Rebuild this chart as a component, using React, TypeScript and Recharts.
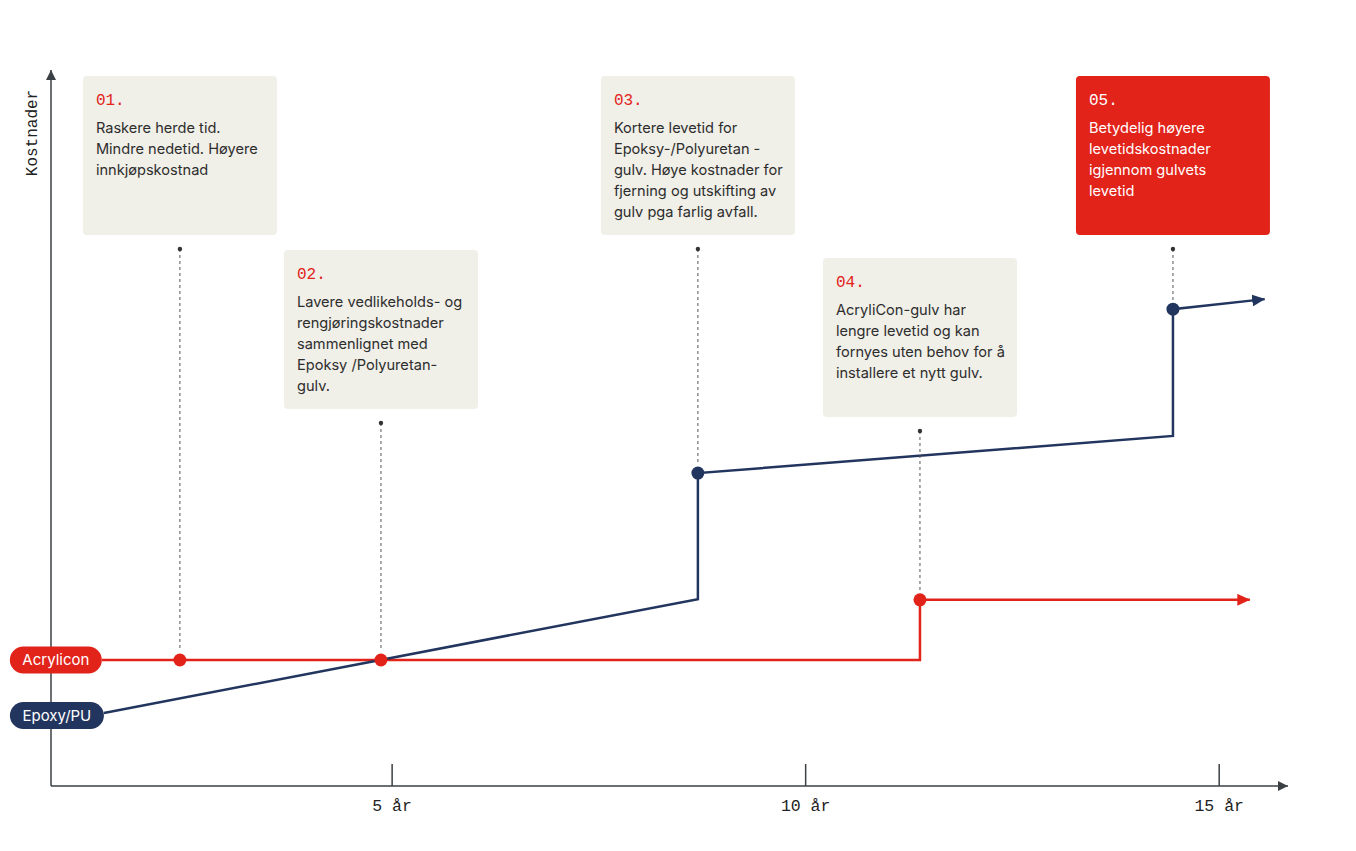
import React from 'react';
import { ComposedChart, Line, XAxis, YAxis, ReferenceDot } from 'recharts';

// ---------- data ----------
const seriesNames = ['Acrylicon', 'Epoxy/PU'];
const acryliconYears = [1.49, 2.434, 4.865, 11.382, 11.382, 15.37];
const acryliconCost = [17.6, 17.6, 17.6, 17.6, 26.0, 26.0];
const epoxyYears = [1.515, 8.697, 8.697, 14.441, 14.441, 15.55];
const epoxyCost = [10.2, 26.1, 43.7, 48.9, 66.6, 68.0];
const xTicks = [5, 10, 15];
const xTickLabels = ['5 år', '10 år', '15 år'];
const yAxisTitle = 'Kostnader';

const eventSeries = ['acrylicon', 'acrylicon', 'epoxy', 'acrylicon', 'epoxy'];
const eventPointIndex = [1, 2, 2, 4, 4];
const eventNumbers = ['01.', '02.', '03.', '04.', '05.'];
const eventTexts = [
  ['Raskere herde tid.', 'Mindre nedetid. Høyere', 'innkjøpskostnad'],
  ['Lavere vedlikeholds- og', 'rengjøringskostnader', 'sammenlignet med', 'Epoksy /Polyuretan-', 'gulv.'],
  ['Kortere levetid for', 'Epoksy-/Polyuretan -', 'gulv. Høye kostnader for', 'fjerning og utskifting av', 'gulv pga farlig avfall.'],
  ['AcryliCon-gulv har', 'lengre levetid og kan', 'fornyes uten behov for å', 'installere et nytt gulv.'],
  ['Betydelig høyere', 'levetidskostnader', 'igjennom gulvets', 'levetid'],
];
const eventHighlight = [false, false, false, false, true];

// ---------- style / layout ----------
const RED = '#E2231A';
const NAVY = '#22355E';
const BOX = '#F0EFE8';
const AXIS = '#3B4045';
const TEXT = '#2D2D2D';
const MONO = '"Liberation Mono", "DejaVu Sans Mono", monospace';
const SANS = 'Inter, "Noto Sans", sans-serif';
const X_MIN = 0.8754;
const X_MAX = 15.832;
const BOX_TOPS = [76, 250, 76, 258, 76];
const BOX_W = 194;
const BOX_H = 159;
const PILL_W = [92, 94];
const PILL_DY = [0, 2.5];

const acryliconData = acryliconYears.map((year, i) => ({ year, cost: acryliconCost[i] }));
const epoxyData = epoxyYears.map((year, i) => ({ year, cost: epoxyCost[i] }));
const seriesData: Record<string, { year: number; cost: number }[]> = {
  acrylicon: acryliconData,
  epoxy: epoxyData,
};

const dotIndices = (key: string) =>
  eventSeries.map((s, i) => (s === key ? eventPointIndex[i] : -1)).filter((v) => v >= 0);

const makeDot = (color: string, key: string) => {
  const idxs = dotIndices(key);
  return (props: any) => {
    const { cx, cy, index } = props;
    if (!idxs.includes(index)) return <g key={`d-${key}-${index}`} />;
    return <circle key={`d-${key}-${index}`} cx={cx} cy={cy} r={6.5} fill={color} />;
  };
};

const Annotation = ({ cx, cy, i }: { cx: number; cy: number; i: number }) => {
  const top = BOX_TOPS[i];
  const left = cx - BOX_W / 2;
  const hl = eventHighlight[i];
  const leaderTop = top + BOX_H + 14;
  return (
    <g>
      <line x1={cx} x2={cx} y1={leaderTop} y2={cy - 9} stroke="#555" strokeWidth={1} strokeDasharray="3 3" />
      <circle cx={cx} cy={leaderTop} r={2.2} fill="#333" />
      <rect x={left} y={top} width={BOX_W} height={BOX_H} rx={4} fill={hl ? RED : BOX} />
      <text x={left + 13} y={top + 29} fontFamily={MONO} fontSize={16} fill={hl ? '#fff' : RED}>
        {eventNumbers[i]}
      </text>
      <text fontFamily={SANS} fontSize={14.6} fill={hl ? '#fff' : TEXT}>
        {eventTexts[i].map((t, k) => (
          <tspan key={k} x={left + 13} y={top + 57 + k * 21}>
            {t}
          </tspan>
        ))}
      </text>
    </g>
  );
};

const Pill = ({ cx, cy, i }: { cx: number; cy: number; i: number }) => {
  const w = PILL_W[i];
  const c = cy + PILL_DY[i];
  return (
    <g>
      <rect x={cx - w} y={c - 13.5} width={w} height={27} rx={13.5} fill={i === 0 ? RED : NAVY} />
      <text x={cx - w / 2} y={c} textAnchor="middle" dominantBaseline="central" fontFamily={SANS} fontSize={15} fill="#fff">
        {seriesNames[i]}
      </text>
    </g>
  );
};

const XTick = (props: any) => {
  const { x, y, payload } = props;
  const i = xTicks.indexOf(payload.value);
  return (
    <g>
      <line x1={x} x2={x} y1={y - 22} y2={y} stroke={AXIS} strokeWidth={1.5} />
      <text x={x} y={y + 25} textAnchor="middle" fontFamily={MONO} fontSize={16.5} fill="#222">
        {xTickLabels[i]}
      </text>
    </g>
  );
};

const YTitle = (props: any) => {
  const vb = props.viewBox || { x: 0, y: 70 };
  const x = vb.x + 33;
  const y = vb.y + 63;
  return (
    <text
      transform={`translate(${x}, ${y}) rotate(-90)`}
      textAnchor="middle"
      dominantBaseline="central"
      fontFamily={MONO}
      fontSize={16}
      fill="#222"
    >
      {yAxisTitle}
    </text>
  );
};

export default function App() {
  return (
    <div style={{ position: 'absolute', left: 0, top: 0, width: 1356, height: 850, background: '#fff' }}>
      <ComposedChart width={1356} height={850} margin={{ top: 70, right: 68, bottom: 24, left: 0 }}>
        <defs>
          <marker id="arrRed" markerUnits="userSpaceOnUse" markerWidth={14} markerHeight={12} refX={12.5} refY={6} orient="auto">
            <path d="M0,0 L13,6 L0,12 z" fill={RED} />
          </marker>
          <marker id="arrNavy" markerUnits="userSpaceOnUse" markerWidth={14} markerHeight={12} refX={12.5} refY={6} orient="auto">
            <path d="M0,0 L13,6 L0,12 z" fill={NAVY} />
          </marker>
          <marker id="arrAxis" markerUnits="userSpaceOnUse" markerWidth={11} markerHeight={10} refX={10} refY={5} orient="auto-start-reverse">
            <path d="M0,0 L10,5 L0,10 z" fill={AXIS} />
          </marker>
        </defs>
        <XAxis
          type="number"
          dataKey="year"
          domain={[X_MIN, X_MAX]}
          allowDataOverflow
          ticks={xTicks}
          height={40}
          tickSize={0}
          tickMargin={0}
          tickLine={false}
          tick={<XTick />}
          axisLine={{ stroke: AXIS, strokeWidth: 1.5, markerEnd: 'url(#arrAxis)' }}
        />
        <YAxis
          type="number"
          domain={[0, 100]}
          allowDataOverflow
          width={51}
          tick={false}
          tickLine={false}
          axisLine={{ stroke: AXIS, strokeWidth: 1.5, markerStart: 'url(#arrAxis)' }}
          label={<YTitle />}
        />
        <Line
          data={acryliconData}
          dataKey="cost"
          type="linear"
          stroke={RED}
          strokeWidth={2.5}
          dot={makeDot(RED, 'acrylicon')}
          activeDot={false}
          markerEnd="url(#arrRed)"
          isAnimationActive={false}
        />
        <Line
          data={epoxyData}
          dataKey="cost"
          type="linear"
          stroke={NAVY}
          strokeWidth={2.5}
          dot={makeDot(NAVY, 'epoxy')}
          activeDot={false}
          markerEnd="url(#arrNavy)"
          isAnimationActive={false}
        />
        {eventSeries.map((s, i) => {
          const pt = seriesData[s][eventPointIndex[i]];
          return (
            <ReferenceDot
              key={`ev${i}`}
              x={pt.year}
              y={pt.cost}
              r={1}
              shape={(p: any) => <Annotation cx={p.cx} cy={p.cy} i={i} />}
            />
          );
        })}
        <ReferenceDot
          x={acryliconData[0].year}
          y={acryliconData[0].cost}
          r={1}
          shape={(p: any) => <Pill cx={p.cx} cy={p.cy} i={0} />}
        />
        <ReferenceDot
          x={epoxyData[0].year}
          y={epoxyData[0].cost}
          r={1}
          shape={(p: any) => <Pill cx={p.cx} cy={p.cy} i={1} />}
        />
      </ComposedChart>
    </div>
  );
}
